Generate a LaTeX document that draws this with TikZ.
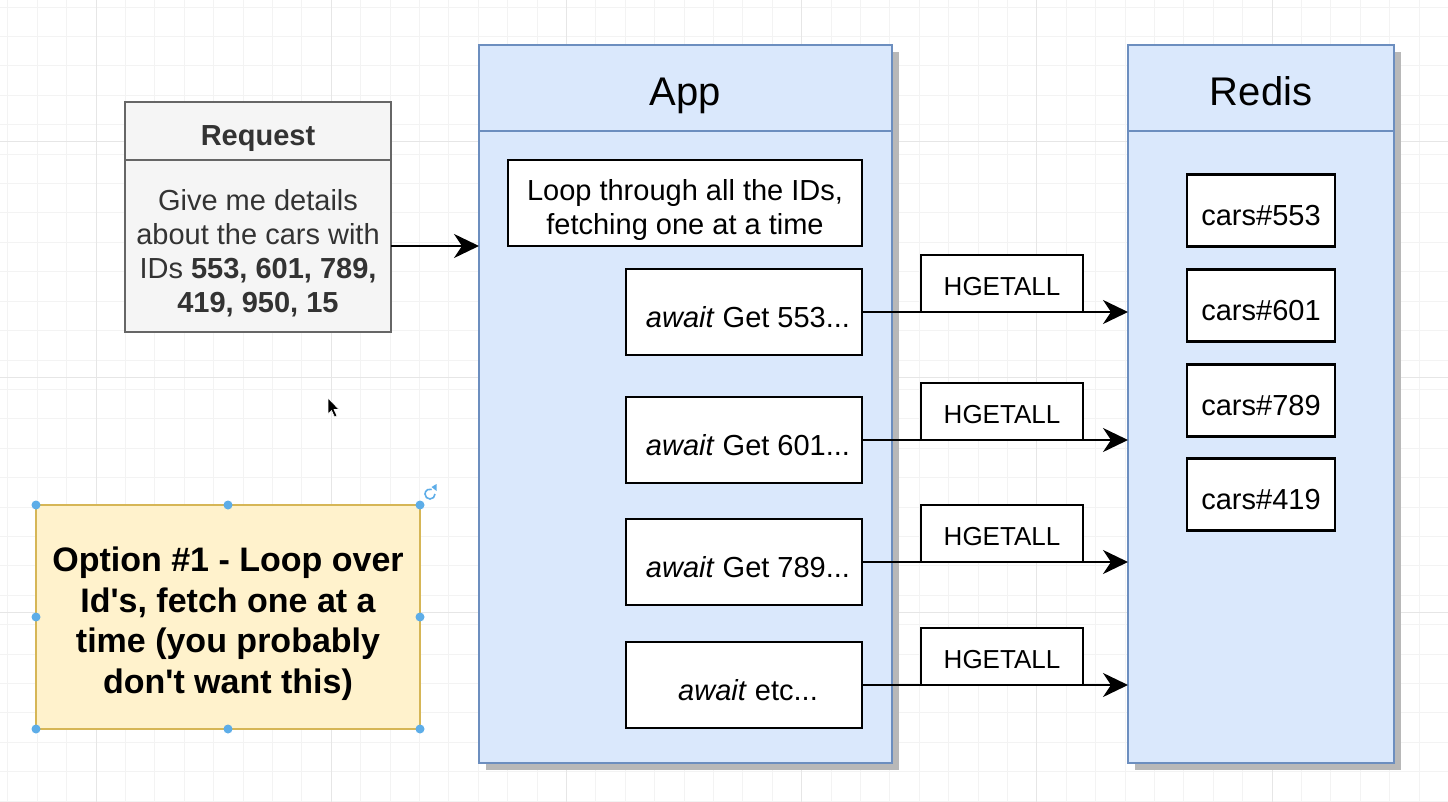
\documentclass[tikz,border=0pt]{standalone}
\usepackage{fontspec}
\setmainfont{Liberation Sans}
\usetikzlibrary{arrows.meta,positioning,shadows}
\definecolor{blufill}{HTML}{DAE8FC}
\definecolor{blustroke}{HTML}{6C8EBF}
\definecolor{reqfill}{HTML}{F5F5F5}
\definecolor{reqstroke}{HTML}{666666}
\definecolor{reqtext}{HTML}{333333}
\definecolor{optfill}{HTML}{FFF2CC}
\definecolor{optstroke}{HTML}{D6B656}
\definecolor{handle}{HTML}{5DADE8}
\definecolor{gridminor}{HTML}{F3F3F3}
\definecolor{gridmajor}{HTML}{E6E6E6}
% Text um #1 nach unten setzen
\newcommand\boxtext[2][8.5pt]{\raisebox{0pt}[\dimexpr\height+2\dimexpr#1\relax\relax][\depth]{\begin{tabular}{@{}c@{}}#2\end{tabular}}}
\tikzset{
	container/.style={draw=blustroke,fill=blufill,line width=2.4pt,inner sep=0pt,outer sep=0pt},
	header/.style={container,font=\fontsize{40}{46}\selectfont},
	box/.style={draw=black,fill=white,line width=2.6pt,inner sep=0pt,outer sep=0pt,align=center,font=\fontsize{29}{34}\selectfont},
	cmdbox/.style={box,font=\fontsize{26}{30}\selectfont,minimum width=162pt,minimum height=57pt},
	reqbox/.style={draw=reqstroke,fill=reqfill,text=reqtext,line width=2.6pt,inner sep=0pt,outer sep=0pt,align=center,minimum width=266pt,font=\fontsize{29}{34}\selectfont},
	arr/.style={line width=2.6pt,-{Stealth[length=25pt,width=24pt,inset=8pt]}}
}
\begin{document}
\begin{tikzpicture}[x=1pt,y=-1pt]
	\useasboundingbox (0,0) rectangle (1448,802);
	\fill[white] (0,0) rectangle (1448,802);
	% Raster
	\foreach \i in {0,...,49}
		\draw[gridminor,line width=1pt] ({7.8+29.4*\i},0) -- ++(0,802);
	\foreach \j in {0,...,27}
		\draw[gridminor,line width=1pt] (0,{7.2+29.4*\j}) -- ++(1448,0);
	\foreach \i in {0,...,5}
		\draw[gridmajor,line width=1pt] ({96+235.2*\i},0) -- ++(0,802);
	\foreach \j in {0,...,2}
		\draw[gridmajor,line width=1pt] (0,{142+235.2*\j}) -- ++(1448,0);
	% Container
	\node[container,minimum width=413pt,minimum height=718pt,drop shadow={shadow xshift=7pt,shadow yshift=-7pt,fill=black!28,opacity=1}] (app) at (685.5,404) {};
	\node[header,minimum width=413pt,minimum height=86pt,anchor=north] (apphead) at (app.north) {\boxtext[8pt]{App}};
	\node[container,minimum width=266pt,minimum height=718pt,drop shadow={shadow xshift=7pt,shadow yshift=-7pt,fill=black!28,opacity=1}] (redis) at (1261,404) {};
	\node[header,minimum width=266pt,minimum height=86pt,anchor=north] (redishead) at (redis.north) {\boxtext[8pt]{Redis}};
	% Anfrage
	\node[reqbox,minimum height=58pt,font=\fontsize{29}{34}\selectfont\bfseries] (reqhead) at (258,131) {\boxtext[8pt]{Request}};
	\node[reqbox,minimum height=172pt,below=0pt of reqhead] (reqbody) {\boxtext[8.5pt]{Give me details\\about the cars with\\IDs \textbf{553, 601, 789,}\\\textbf{419, 950, 15}}};
	\draw[arr] (reqbody.east) -- (reqbody.east -| app.west);
	% App
	\node[box,minimum width=354pt,minimum height=86pt] (loop) at (685,203) {\boxtext[7.5pt]{Loop through all the IDs,\\fetching one at a time}};
	\foreach \n/\y/\t in {1/312/{Get 553...},2/440/{Get 601...},3/562/{Get 789...},4/685/{etc...}}{
		\node[box,minimum width=236pt,minimum height=86pt] (await\n) at (744,\y) {\boxtext[8.7pt]{\hspace*{8pt}\textit{await} \t}};
		\draw[arr] (await\n.east) -- (await\n.east -| redis.west);
		\node[cmdbox,anchor=south] (hget\n) at (1002,\y) {\boxtext[6pt]{HGETALL}};
	}
	% Redis
	\foreach \id/\y in {553/210.5,601/305.5,789/400.5,419/494.5}
		\node[box,minimum width=148pt,minimum height=72pt] (car\id) at (1261,\y) {\boxtext[8pt]{cars\#\id}};
	% Option
	\node[draw=optstroke,fill=optfill,line width=2.6pt,inner sep=0pt,outer sep=0pt,minimum width=384pt,minimum height=224pt,align=center,font=\fontsize{34}{40.5}\selectfont\bfseries] (opt) at (228,617) {\boxtext[7.5pt]{Option \#1 - Loop over\\Id\textquotesingle s, fetch one at a\\time (you probably\\don\textquotesingle t want this)}};
	\foreach \a in {north west,north,north east,west,east,south west,south,south east}
		\fill[handle] (opt.\a) circle (4.5pt);
	\draw[handle,line width=1.6pt] (435,494) arc[start angle=0,end angle=-290,radius=5pt];
	\fill[handle] (431.5,487) -- ++(5,-3) -- ++(0,7) -- cycle;
	% Mauszeiger
	\filldraw[fill=black,draw=white,line width=0.6pt] (328,398) -- (328,414) -- (331.5,410.5) -- (334.5,417) -- (337,416) -- (334,409.5) -- (339,409.5) -- cycle;
\end{tikzpicture}
\end{document}
